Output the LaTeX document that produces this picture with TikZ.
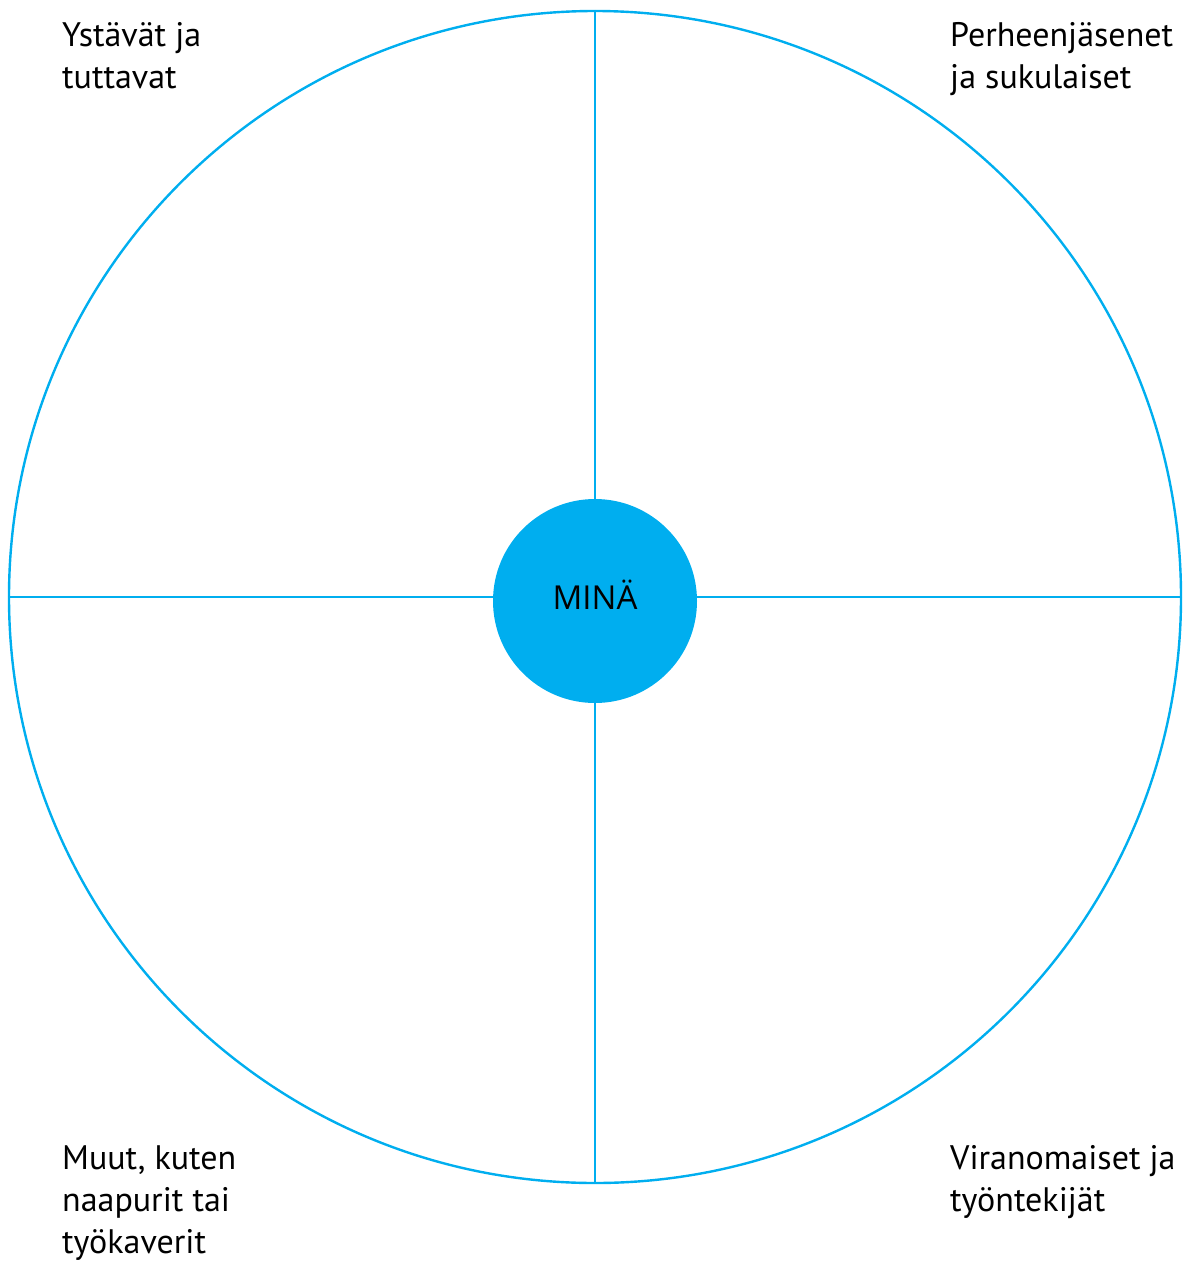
\documentclass[tikz,border=0pt]{standalone}
\usepackage{fontspec}
\setmainfont{PT Sans}
\newfontfamily\centerfont{Open Sans}
\definecolor{ringblue}{HTML}{00AEEF}
\begin{document}
\begin{tikzpicture}[x=1pt,y=-1pt,
  ring/.style={draw=ringblue,line width=2.4pt},
  corner/.style={anchor=base west,align=left,inner sep=0pt,
    font=\fontsize{34}{42}\selectfont}]
\useasboundingbox (0,0) rectangle (1183,1261);
% outer ring and the four quadrant dividers
\node[ring,circle,minimum size=1172pt,inner sep=0pt] (outer) at (595,597) {};
\node[circle,fill=ringblue,minimum size=204pt,inner sep=0pt] (me) at (595,601) {};
\node[anchor=base,inner sep=0pt,font=\centerfont\fontsize{33}{38}\selectfont]
  (melabel) at (595,609) {MINÄ};
\draw[ring] (outer.north) -- (me.north);
\draw[ring] (outer.south) -- (me.south);
\draw[ring] (outer.west) -- (me.west |- outer.west);
\draw[ring] (outer.east) -- (me.east |- outer.east);
% quadrant labels (anchored at the baseline of their last line)
\node[corner] (friends) at (62,88) {Ystävät ja\\tuttavat};
\node[corner] (family) at (950,88) {Perheenjäsenet\\ja sukulaiset};
\node[corner] (others) at (62,1253) {Muut, kuten\\naapurit tai\\työkaverit};
\node[corner] (officials) at (950,1211) {Viranomaiset ja\\työntekijät};
\end{tikzpicture}
\end{document}
